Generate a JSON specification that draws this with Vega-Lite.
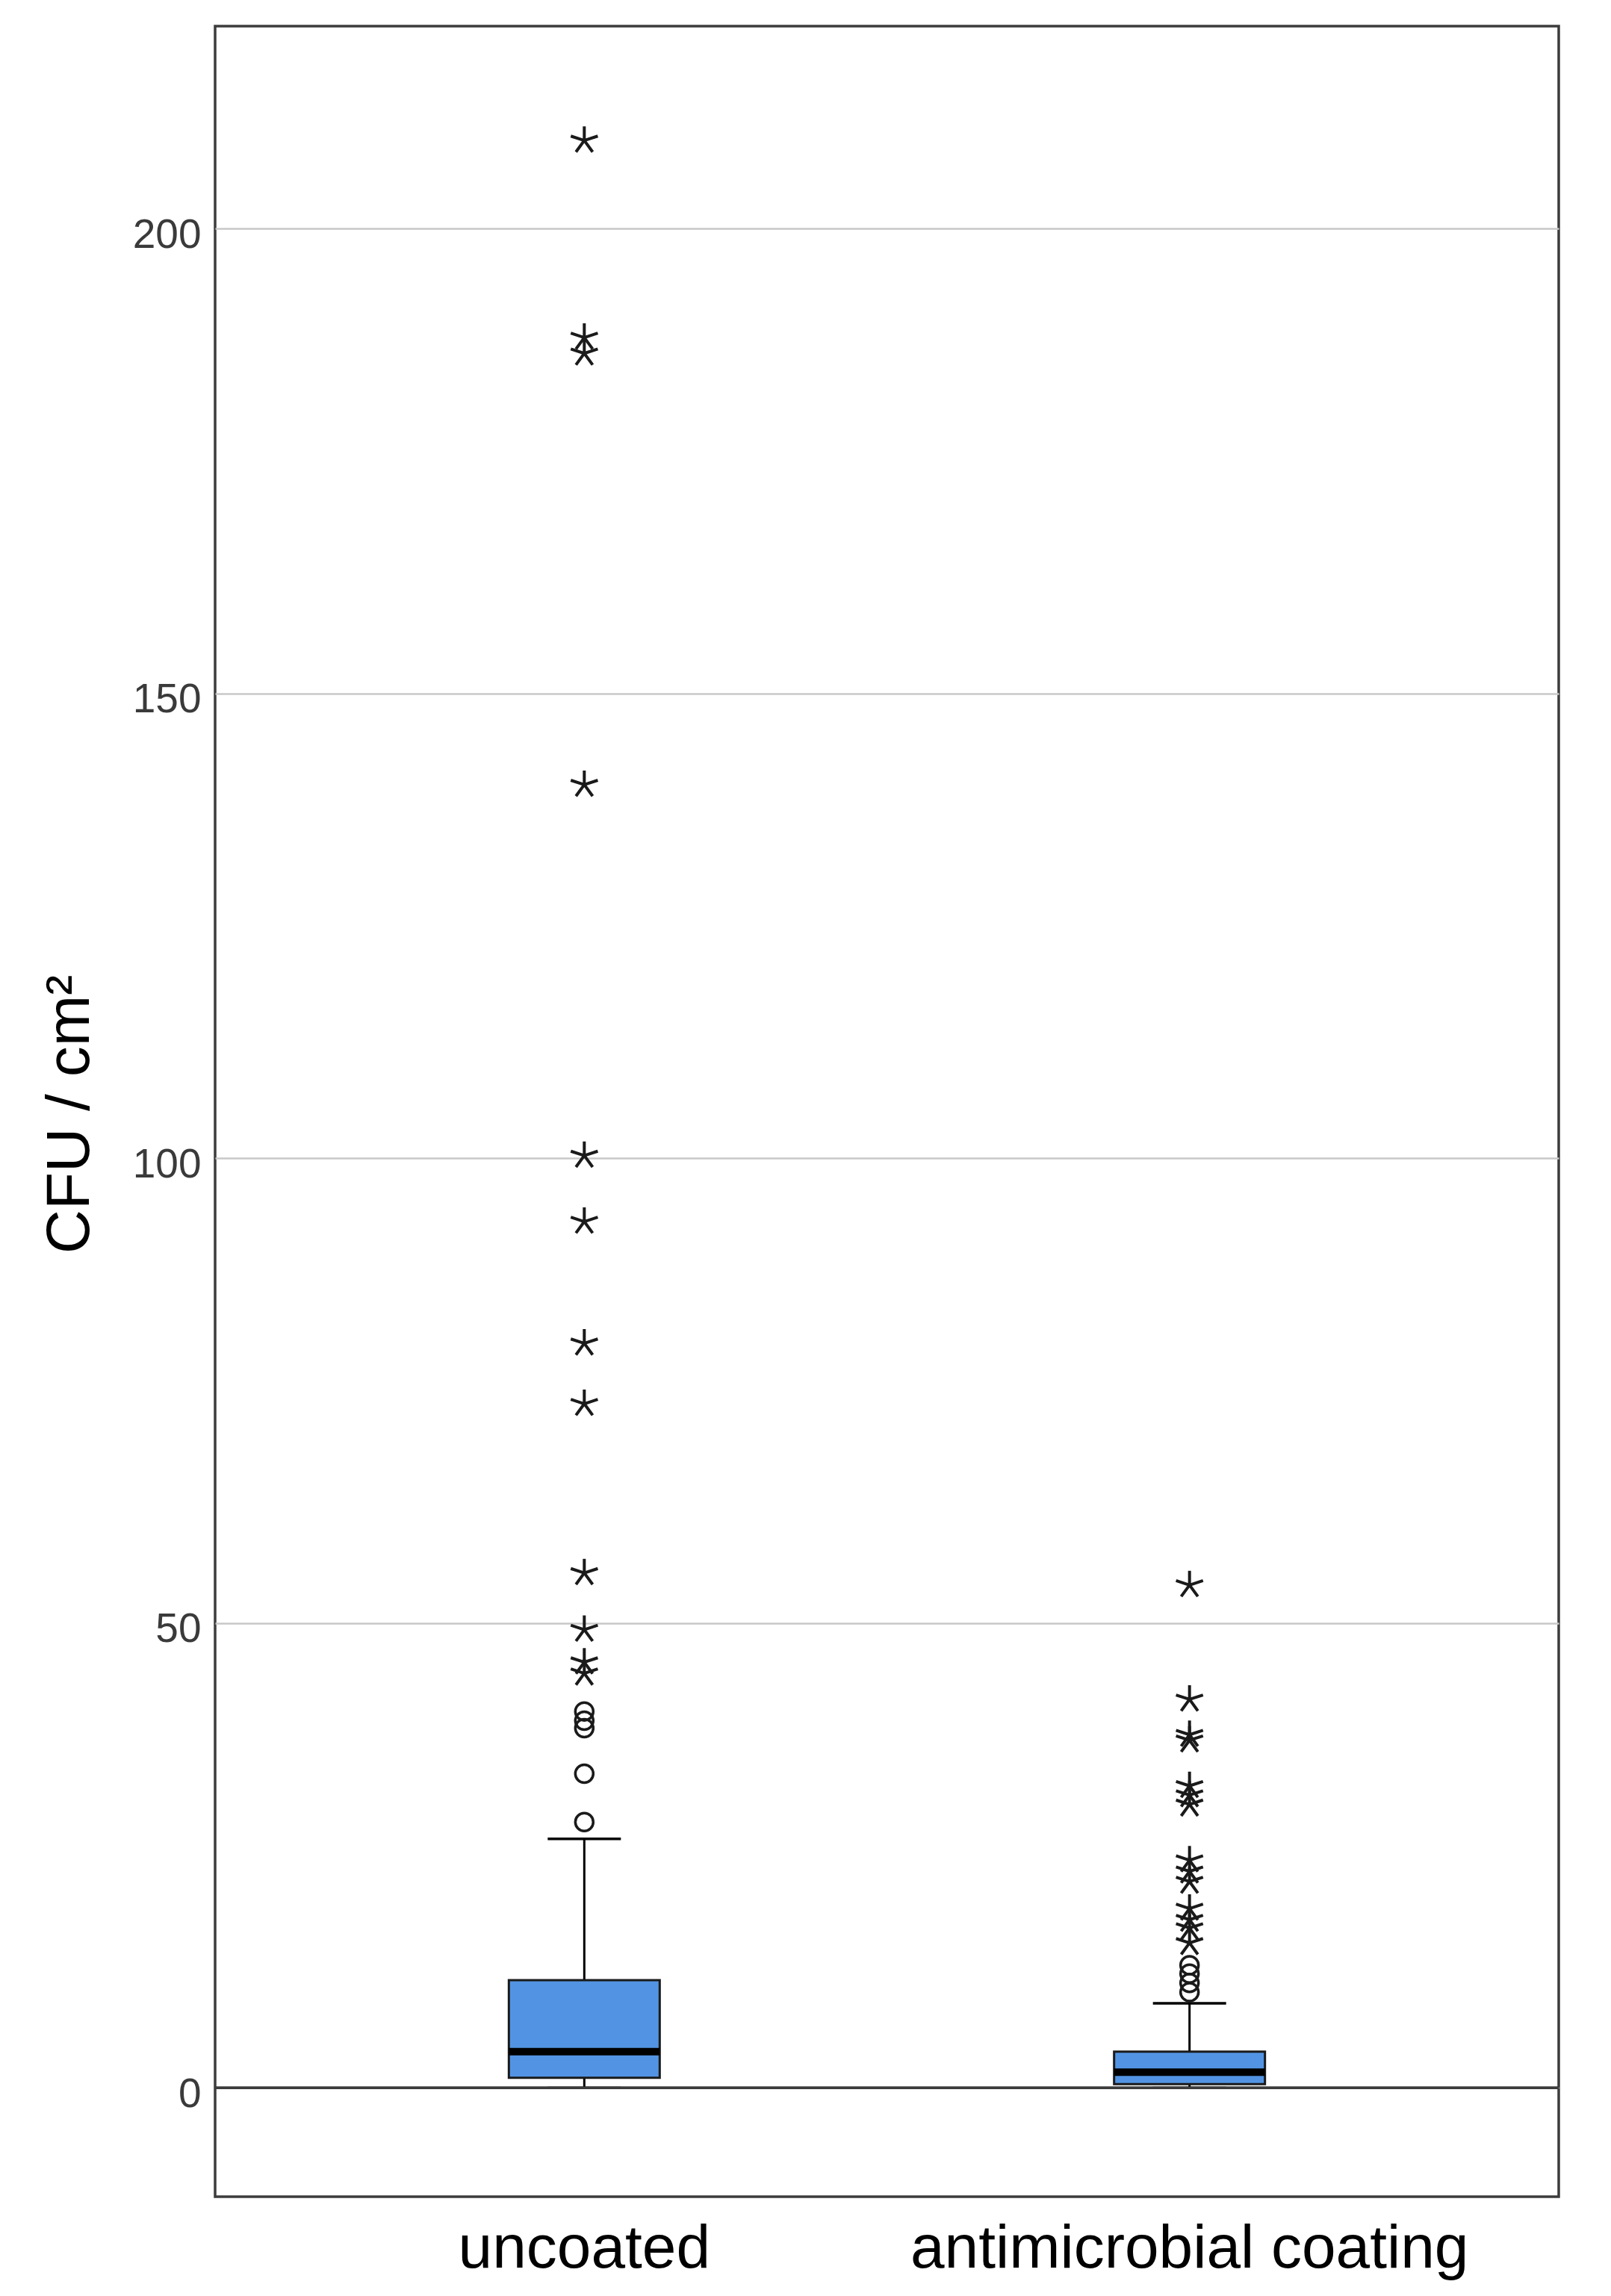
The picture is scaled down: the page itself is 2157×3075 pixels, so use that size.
{
  "$schema": "https://vega.github.io/schema/vega-lite/v6.json",
  "autosize": {"type": "none"},
  "padding": {"left": 288, "top": 35, "right": 70, "bottom": 133},
  "width": 1799,
  "height": 2907,
  "background": "white",
  "config": {
    "view": {"stroke": "#3c3c3c", "strokeWidth": 3.5},
    "font": "Liberation Sans"
  },
  "datasets": {
    "summary": [
      {"group": "uncoated", "lo": 0, "q1": 1.1, "median": 3.9, "q3": 11.6, "hi": 26.8},
      {"group": "antimicrobial coating", "lo": 0, "q1": 0.4, "median": 1.7, "q3": 3.9, "hi": 9.1}
    ],
    "outliers": [
      {"group": "uncoated", "value": 28.6, "kind": "circle"},
      {"group": "uncoated", "value": 33.8, "kind": "circle"},
      {"group": "uncoated", "value": 38.7, "kind": "circle"},
      {"group": "uncoated", "value": 39.5, "kind": "circle"},
      {"group": "uncoated", "value": 40.5, "kind": "circle"},
      {"group": "uncoated", "value": 44.6, "kind": "star"},
      {"group": "uncoated", "value": 45.8, "kind": "star"},
      {"group": "uncoated", "value": 49.3, "kind": "star"},
      {"group": "uncoated", "value": 55.4, "kind": "star"},
      {"group": "uncoated", "value": 73.6, "kind": "star"},
      {"group": "uncoated", "value": 80.1, "kind": "star"},
      {"group": "uncoated", "value": 93.2, "kind": "star"},
      {"group": "uncoated", "value": 100.3, "kind": "star"},
      {"group": "uncoated", "value": 140.2, "kind": "star"},
      {"group": "uncoated", "value": 186.6, "kind": "star"},
      {"group": "uncoated", "value": 188.3, "kind": "star"},
      {"group": "uncoated", "value": 209.5, "kind": "star"},
      {"group": "antimicrobial coating", "value": 10.3, "kind": "circle"},
      {"group": "antimicrobial coating", "value": 11.3, "kind": "circle"},
      {"group": "antimicrobial coating", "value": 12.3, "kind": "circle"},
      {"group": "antimicrobial coating", "value": 13.2, "kind": "circle"},
      {"group": "antimicrobial coating", "value": 15.6, "kind": "star"},
      {"group": "antimicrobial coating", "value": 17.2, "kind": "star"},
      {"group": "antimicrobial coating", "value": 18.1, "kind": "star"},
      {"group": "antimicrobial coating", "value": 19.3, "kind": "star"},
      {"group": "antimicrobial coating", "value": 22.2, "kind": "star"},
      {"group": "antimicrobial coating", "value": 23.3, "kind": "star"},
      {"group": "antimicrobial coating", "value": 24.5, "kind": "star"},
      {"group": "antimicrobial coating", "value": 30.5, "kind": "star"},
      {"group": "antimicrobial coating", "value": 31.5, "kind": "star"},
      {"group": "antimicrobial coating", "value": 32.5, "kind": "star"},
      {"group": "antimicrobial coating", "value": 37.4, "kind": "star"},
      {"group": "antimicrobial coating", "value": 38.0, "kind": "star"},
      {"group": "antimicrobial coating", "value": 41.8, "kind": "star"},
      {"group": "antimicrobial coating", "value": 54.1, "kind": "star"}
    ],
    "zero": [{"v": 0}]
  },
  "encoding": {
    "x": {
      "field": "group",
      "type": "nominal",
      "sort": ["uncoated", "antimicrobial coating"],
      "scale": {"type": "band", "paddingInner": 0, "paddingOuter": 0.11},
      "axis": {
        "title": null,
        "domain": false,
        "ticks": false,
        "tickSize": 0,
        "labelAngle": 0,
        "labelLimit": 0,
        "labelFont": "Liberation Sans",
        "labelFontSize": 82,
        "labelColor": "#000000",
        "labelBaseline": "alphabetic",
        "labelPadding": 94
      }
    }
  },
  "layer": [
    {
      "data": {"name": "zero"},
      "mark": {"type": "rule", "color": "#3c3c3c", "strokeWidth": 3.5},
      "encoding": {
        "x": null,
        "y": {
          "field": "v",
          "type": "quantitative",
          "scale": {"domain": [-11.7, 221.8], "nice": false, "zero": false},
          "axis": {
            "title": "CFU / cm²",
            "titleFont": "Liberation Sans",
            "titleFontSize": 82,
            "titleFontWeight": "normal",
            "titleColor": "#000000",
            "titleAngle": -90,
            "titleAlign": "center",
            "titleBaseline": "alphabetic",
            "titleX": -170,
            "titleY": 1457,
            "values": [0, 50, 100, 150, 200],
            "domain": false,
            "ticks": false,
            "tickSize": 0,
            "labelFont": "Liberation Sans",
            "labelFontSize": 55,
            "labelColor": "#3a3a3a",
            "labelPadding": 19,
            "labelOffset": 8,
            "labelBaseline": "middle",
            "grid": true,
            "gridColor": "#c8c8c8",
            "gridWidth": 2.5
          }
        }
      }
    },
    {
      "data": {"name": "zero"},
      "mark": {"type": "rule", "color": "#3c3c3c", "strokeWidth": 3.5},
      "encoding": {"x": null, "y": {"field": "v", "type": "quantitative"}}
    },
    {
      "data": {"name": "summary"},
      "mark": {"type": "rule", "color": "#000000", "strokeWidth": 3},
      "encoding": {
        "y": {"field": "q3", "type": "quantitative"},
        "y2": {"field": "hi"}
      }
    },
    {
      "data": {"name": "summary"},
      "mark": {"type": "rule", "color": "#000000", "strokeWidth": 3},
      "encoding": {
        "y": {"field": "lo", "type": "quantitative"},
        "y2": {"field": "q1"}
      }
    },
    {
      "data": {"name": "summary"},
      "mark": {"type": "bar", "size": 202, "fill": "#5294e3", "stroke": "#1a1a1a", "strokeWidth": 3},
      "encoding": {
        "y": {"field": "q1", "type": "quantitative"},
        "y2": {"field": "q3"}
      }
    },
    {
      "data": {"name": "summary"},
      "mark": {"type": "tick", "size": 202, "thickness": 10, "color": "#000000", "opacity": 1},
      "encoding": {"y": {"field": "median", "type": "quantitative"}}
    },
    {
      "data": {"name": "summary"},
      "mark": {"type": "tick", "size": 98, "thickness": 3.5, "color": "#000000", "opacity": 1},
      "encoding": {"y": {"field": "hi", "type": "quantitative"}}
    },
    {
      "data": {"name": "summary"},
      "mark": {"type": "tick", "size": 98, "thickness": 3.5, "color": "#3c3c3c", "opacity": 1},
      "encoding": {"y": {"field": "lo", "type": "quantitative"}}
    },
    {
      "data": {"name": "outliers"},
      "transform": [{"filter": "datum.kind === 'circle'"}],
      "mark": {"type": "point", "shape": "circle", "size": 576, "filled": false, "stroke": "#1a1a1a", "strokeWidth": 3.5, "opacity": 1},
      "encoding": {"y": {"field": "value", "type": "quantitative"}}
    },
    {
      "data": {"name": "outliers"},
      "transform": [{"filter": "datum.kind === 'star'"}],
      "mark": {
        "type": "point",
        "shape": "M0,0L0,-1M0,0L0.951,-0.309M0,0L-0.951,-0.309M0,0L0.588,0.809M0,0L-0.588,0.809",
        "size": 1444,
        "filled": false,
        "stroke": "#1a1a1a",
        "strokeWidth": 4,
        "opacity": 1
      },
      "encoding": {"y": {"field": "value", "type": "quantitative"}}
    }
  ]
}
